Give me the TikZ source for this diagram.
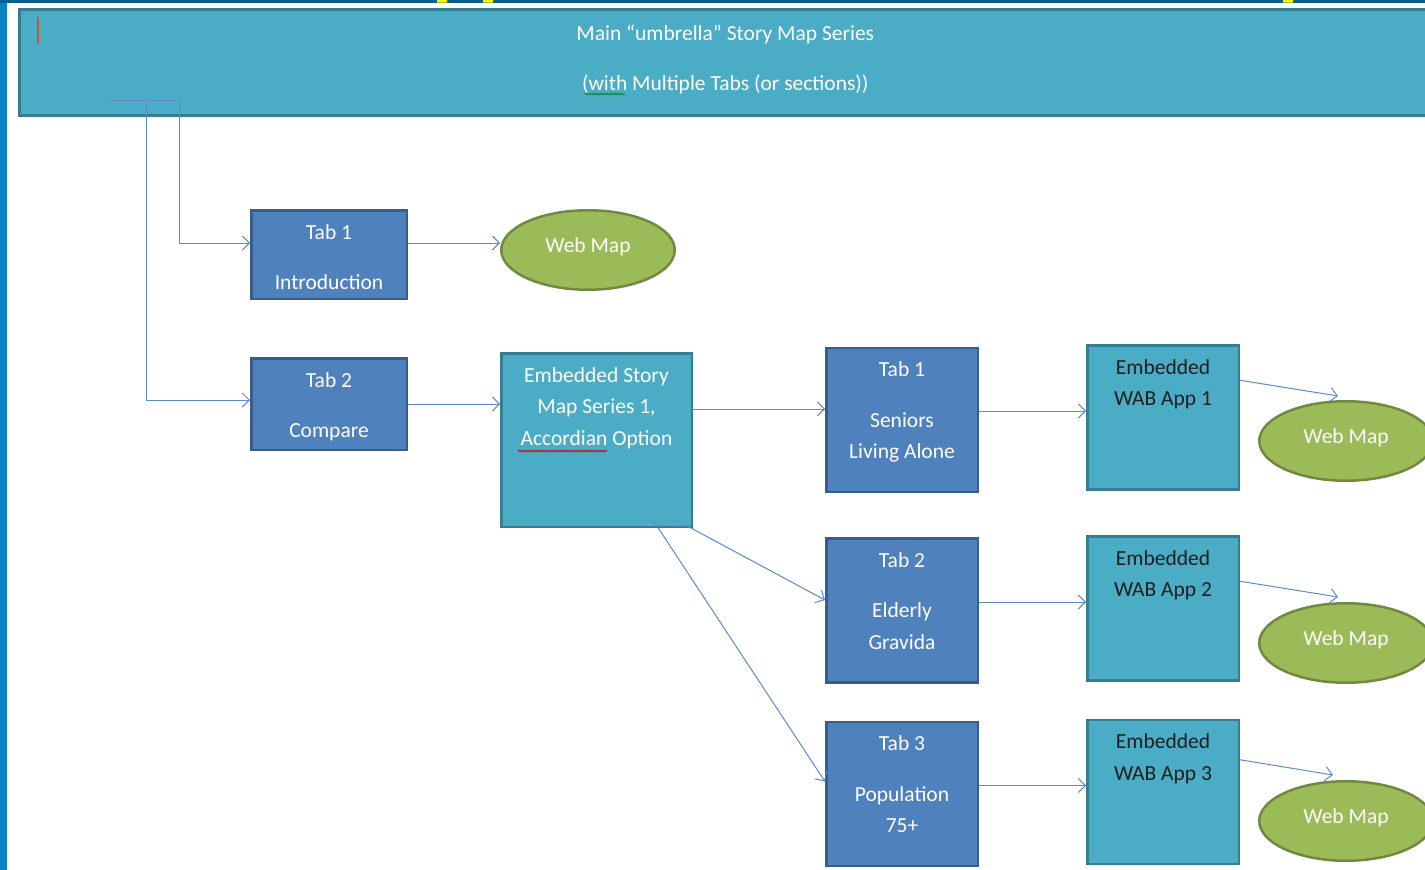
\documentclass[tikz,border=0pt]{standalone}
\usepackage{fontspec}
\setmainfont{Carlito}
\usetikzlibrary{positioning, arrows.meta, shapes.geometric, decorations.pathmorphing}
\definecolor{barfill}{HTML}{4BACC6}
\definecolor{barline}{HTML}{357D91}
\definecolor{tabfill}{HTML}{4F81BD}
\definecolor{tabline}{HTML}{385D8A}
\definecolor{mapfill}{HTML}{9BBB59}
\definecolor{mapline}{HTML}{71893F}
\definecolor{linkcol}{HTML}{5B8BCB}
\definecolor{edgeblue}{HTML}{0A82C0}
\definecolor{topblue}{HTML}{0B5E92}
\definecolor{cursorred}{HTML}{C8552E}
\tikzset{>={Straight Barb[length=7pt,width=14pt]},
    txt/.style={font=\fontsize{21.5}{31.5}\selectfont, text=white, align=center, inner sep=0pt, anchor=north, yshift=-15pt},
    bar/.style={rectangle, draw=barline, fill=barfill, line width=3pt, inner sep=0pt, label={[txt, yshift=-2pt]north:{#1}}},
    tab/.style={rectangle, draw=tabline, fill=tabfill, line width=2.5pt, inner sep=0pt, minimum width=151.5pt, minimum height=144pt, label={[txt]north:{#1}}},
    story/.style={rectangle, draw=barline, fill=barfill, line width=2.5pt, inner sep=0pt, minimum width=151.5pt, minimum height=144pt, label={[txt]north:{#1}}},
    app/.style={story, label={[txt, text=black!88]north:{#1}}},
    webmap/.style={ellipse, draw=mapline, fill=mapfill, line width=2.5pt, inner sep=0pt, minimum width=173.5pt, minimum height=79.5pt, text=white, text depth=10.5pt, font=\fontsize{21.5}{31.5}\selectfont},
    link/.style={->, draw=linkcol, line width=1pt},
    squiggle/.style={decorate, decoration={snake, segment length=3pt, amplitude=0.8pt}, line width=0.8pt}}

\begin{document}
\begin{tikzpicture}[x=1pt, y=-1pt]
    \useasboundingbox (0,0) rectangle (1425,870);
    \clip (0,0) rectangle (1425,870);
    \fill[white] (0,0) rectangle (1425,870);
    \fill[edgeblue] (0,0) rectangle (7,870);
    \fill[topblue] (0,0) rectangle (1425,2.5);
    \fill[yellow] (437,0) rectangle (447,2.5) (483,0) rectangle (493,2.5) (1283,0) rectangle (1293,2.5);

    % top bar
    \node[bar={Main “umbrella” Story Map Series\\[19pt](with Multiple Tabs (or sections))}, minimum width=1412pt, minimum height=106pt] (umbrella) at (725.3,62.2) {};
    \draw[cursorred, line width=2pt] (38,17) -- (38,43);
    \draw[squiggle, green!55!black] (585,94) -- (625,94);
    \coordinate (trunk) at (107,100);

    % left column
    \node[tab={Tab 1\\[19pt]Introduction}, minimum width=155.5pt, minimum height=88.5pt] (intro) at (329,254.5) {};
    \node[tab={Tab 2\\[19pt]Compare}, minimum width=155.5pt, minimum height=91.5pt] (compare) at (329,404) {};
    \node[webmap] (mapA) at (588,250) {Web Map};
    \node[story={Embedded Story\\Map Series 1,\\Accordian Option}, minimum width=190.5pt, minimum height=173.5pt] (series) at (596.5,440) {};
    \draw[squiggle, red!80!black] (518,451) -- (607,451);

    % tabs of the series
    \node[tab={Tab 1\\[19pt]Seniors\\Living Alone}] (seniors) at (902,420) {};
    \node[tab={Tab 2\\[19pt]Elderly\\Gravida}, below=44pt of seniors] (elderly) {};
    \node[tab={Tab 3\\[19pt]Population\\75+}, below=37pt of elderly] (population) {};

    % apps and maps
    \node[app={Embedded\\WAB App 1}, right=107pt of seniors, yshift=2.5pt] (wabA) {};
    \node[app={Embedded\\WAB App 2}, right=107pt of elderly, yshift=2pt] (wabB) {};
    \node[app={Embedded\\WAB App 3}, right=107pt of population, yshift=2pt] (wabC) {};
    \node[webmap] (mapB) at (1346,441) {Web Map};
    \node[webmap] (mapC) at (1346,643) {Web Map};
    \node[webmap] (mapD) at (1346,821) {Web Map};

    \draw[link] (trunk) -- ++(72pt,0pt) |- ([yshift=11.5pt]intro.west);
    \draw[link] (trunk) ++(39pt,0pt) |- ([yshift=4pt]compare.west);
    \draw[link] ([yshift=11.5pt]intro.east) -- ([yshift=7pt]mapA.west);
    \draw[link] (compare.east) -- (compare.east -| series.west);
    \draw[link] ([yshift=11pt]series.east |- seniors.west) -- ([yshift=11pt]seniors.west);
    \draw[link] ([xshift=-17pt,yshift=8pt]series.south east) -- ([yshift=10.5pt]elderly.west);
    \draw[link] ([xshift=-40pt,yshift=8pt]series.south east) -- ([yshift=12.5pt]population.west);
    \draw[link] ([yshift=9pt]seniors.east) -- ([yshift=9pt]seniors.east -| wabA.west);
    \draw[link] ([yshift=8.5pt]elderly.east) -- ([yshift=8.5pt]elderly.east -| wabB.west);
    \draw[link] ([yshift=8.5pt]population.east) -- ([yshift=8.5pt]population.east -| wabC.west);
    \draw[link] ([yshift=37.25pt]wabA.east) -- ([xshift=-8pt,yshift=4pt]mapB.north);
    \draw[link] ([yshift=27.25pt]wabB.east) -- ([xshift=-8pt,yshift=5pt]mapC.north);
    \draw[link] ([yshift=32.25pt]wabC.east) -- ([xshift=-13pt,yshift=5pt]mapD.north);
\end{tikzpicture}
\end{document}
